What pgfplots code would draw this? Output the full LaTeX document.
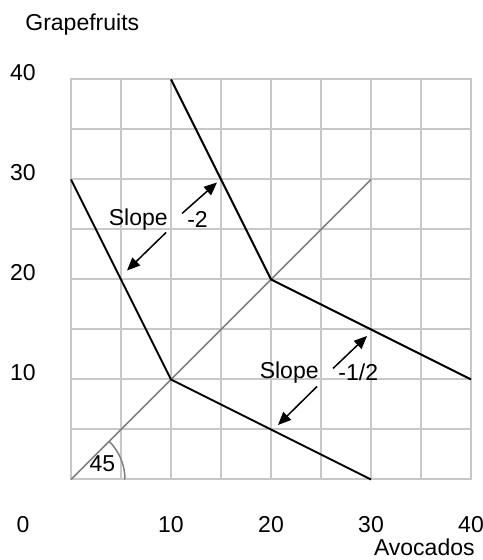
\documentclass[border=0pt]{standalone}
\usepackage{fontspec}
\setmainfont{Liberation Sans}
\usepackage{pgfplots}
\pgfplotsset{compat=1.18}
\usetikzlibrary{arrows.meta}
\definecolor{gridgray}{RGB}{200,200,200}
\definecolor{linegray}{RGB}{128,128,128}
\begin{document}
\begin{tikzpicture}[font=\fontsize{11.5}{13.5}\selectfont]
\path[use as bounding box] (-35.5pt,-40.25pt) rectangle (205.5pt,239.75pt);
\begin{axis}[
  at={(0,0)}, anchor=south west,
  scale only axis, width=200pt, height=200pt,
  xmin=0, xmax=40, ymin=0, ymax=40,
  xtick={10,20,30,40}, ytick={10,20,30,40},
  minor xtick={5,15,25,35}, minor ytick={5,15,25,35},
  grid=both,
  major grid style={draw=gridgray, line width=1pt},
  minor grid style={draw=gridgray, line width=1pt},
  axis line style={draw=gridgray, line width=1pt},
  major tick length=0pt, minor tick length=0pt,
  tick style={draw=none},
  xticklabel style={anchor=center, yshift=-22.75pt},
  yticklabel style={anchor=center, xshift=-24pt, yshift=3.5pt},
  /pgf/number format/assume math mode=true,
  clip=false,
]
\addplot[linegray, line width=0.75pt] coordinates {(0,0) (30,30)};
\addplot[black, line width=1pt] coordinates {(0,30) (10,10) (30,0)};
\addplot[black, line width=1pt] coordinates {(10,40) (20,20) (40,10)};
\addplot[black, line width=0.75pt, -{Triangle[length=6.5pt,width=5.5pt]}] coordinates {(11.1,26.6) (14.6,29.7)};
\addplot[black, line width=0.75pt, -{Triangle[length=6.5pt,width=5.5pt]}] coordinates {(9.5,24.7) (5.6,20.9)};
\addplot[black, line width=0.75pt, -{Triangle[length=6.5pt,width=5.5pt]}] coordinates {(26.2,11.1) (29.6,14.35)};
\addplot[black, line width=0.75pt, -{Triangle[length=6.5pt,width=5.5pt]}] coordinates {(24.6,9.3) (20.7,5.45)};
\draw[linegray, line width=0.75pt] (axis cs:5.4,0) arc[start angle=0, end angle=45, radius=27pt];
\node at (axis cs:6.73,26.0) {Slope};
\node at (axis cs:12.65,26.0) {-2};
\node at (axis cs:21.82,10.68) {Slope};
\node at (axis cs:28.73,10.68) {-1/2};
\node at (axis cs:3.15,1.62) {45};
\node[xshift=-24pt, yshift=-22.75pt] at (rel axis cs:0,0) {0};
\node[inner sep=0pt, anchor=east, xshift=2pt, yshift=-34pt] at (rel axis cs:1,0) {Avocados};
\node[inner sep=0pt, anchor=base west, xshift=-23pt, yshift=24.25pt] at (rel axis cs:0,1) {Grapefruits};
\end{axis}
\end{tikzpicture}
\end{document}
